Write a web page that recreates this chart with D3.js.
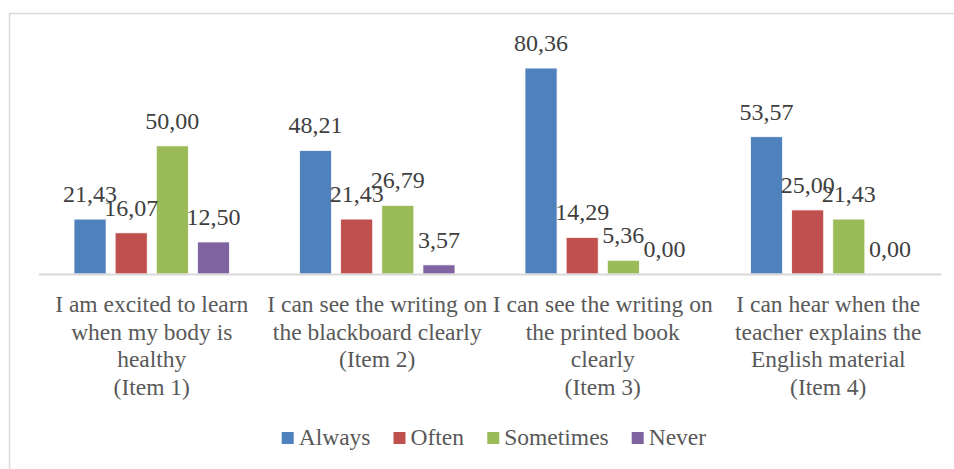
<!DOCTYPE html>
<html>
<head>
<meta charset="utf-8">
<script src="https://cdn.jsdelivr.net/npm/d3@7"></script>
<style>
  body { margin: 0; background: #fff; }
  svg { display: block; }
  text { font-family: "Liberation Serif", "Times New Roman", serif; }
</style>
</head>
<body>
<svg id="chart"></svg>
<script>
var categories = ["Item 1", "Item 2", "Item 3", "Item 4"];
var categoryLines = [
    ["I am excited to learn", "when my body is", "healthy", "(Item 1)"],
    ["I can see the writing on", "the blackboard clearly", "(Item 2)"],
    ["I can see the writing on", "the printed book", "clearly", "(Item 3)"],
    ["I can hear when the", "teacher explains the", "English material", "(Item 4)"]
];
var seriesNames = ["Always", "Often", "Sometimes", "Never"];
var always    = [21.43, 48.21, 80.36, 53.57];
var often     = [16.07, 21.43, 14.29, 25.00];
var sometimes = [50.00, 26.79, 5.36, 21.43];
var never     = [12.50, 3.57, 0.00, 0.00];
var colors = ["#4f81bd", "#c0504d", "#9bbb59", "#8064a2"];

var width = 954, height = 469;
var svg = d3.select("#chart").attr("width", width).attr("height", height);

// chart border (only top/left show in the picture)
svg.append("rect")
    .attr("x", 9.5).attr("y", 13.5)
    .attr("width", 960).attr("height", 480)
    .attr("fill", "none")
    .attr("stroke", "#d9d9d9")
    .attr("stroke-width", 1.5);

var plotLeft = 39, plotRight = 941, baseY = 274;

var data = categories.map(function(c, i) {
    return {cat: c, values: [always[i], often[i], sometimes[i], never[i]]};
});

var x0 = d3.scaleBand().domain(categories).range([plotLeft, plotRight]).paddingInner(0).paddingOuter(0);
var x1 = d3.scaleBand().domain(seriesNames).range([35, x0.bandwidth() - 35]).paddingInner(0.22);
var y = d3.scaleLinear().domain([0, 90]).range([baseY, baseY - 90 * 2.563]);

var groups = svg.append("g").selectAll("g")
    .data(data).enter().append("g")
    .attr("transform", function(d) { return "translate(" + x0(d.cat) + ",0)"; });

groups.selectAll("rect")
    .data(function(d) { return d.values.map(function(v, j) { return {name: seriesNames[j], v: v, j: j}; }); })
    .enter().append("rect")
    .attr("x", function(d) { return x1(d.name); })
    .attr("y", function(d) { return y(d.v); })
    .attr("width", x1.bandwidth())
    .attr("height", function(d) { return baseY - y(d.v); })
    .attr("fill", function(d) { return colors[d.j]; })
    .attr("stroke", "#fff")
    .attr("stroke-width", 0.8);

groups.selectAll("text.val")
    .data(function(d) { return d.values.map(function(v, j) { return {name: seriesNames[j], v: v}; }); })
    .enter().append("text")
    .attr("class", "val")
    .attr("x", function(d) { return x1(d.name) + x1.bandwidth() / 2; })
    .attr("y", function(d) { return y(d.v) - 17; })
    .attr("text-anchor", "middle")
    .style("font-size", "24px")
    .style("fill", "#404040")
    .text(function(d) { return d.v.toFixed(2).replace(".", ","); });

// baseline
svg.append("line")
    .attr("x1", plotLeft).attr("x2", plotRight)
    .attr("y1", baseY + 0.5).attr("y2", baseY + 0.5)
    .attr("stroke", "#d9d9d9")
    .attr("stroke-width", 2);

// category labels
var catLabels = svg.append("g").selectAll("text")
    .data(categories).enter().append("text")
    .attr("text-anchor", "middle")
    .style("font-size", "23.5px")
    .style("fill", "#595959")
    .attr("transform", function(d) { return "translate(" + (x0(d) + x0.bandwidth() / 2) + ",312)"; });

catLabels.selectAll("tspan")
    .data(function(d, i) { return categoryLines[i]; })
    .enter().append("tspan")
    .attr("x", 0)
    .attr("y", function(d, i) { return i * 27.6; })
    .text(function(d) { return d; });

// legend
var legend = svg.append("g");
var items = legend.selectAll("g").data(seriesNames).enter().append("g");
items.append("rect")
    .attr("width", 12).attr("height", 12)
    .attr("y", 432)
    .attr("fill", function(d, i) { return colors[i]; });
items.append("text")
    .attr("x", 17).attr("y", 445)
    .style("font-size", "23.5px")
    .style("fill", "#595959")
    .text(function(d) { return d; });

var offset = 0, positions = [];
items.each(function() {
    positions.push(offset);
    offset += this.getBBox().width + 23;
});
var totalW = offset - 23;
var startX = 494 - totalW / 2;
items.attr("transform", function(d, i) { return "translate(" + (startX + positions[i]) + ",0)"; });
</script>
</body>
</html>
